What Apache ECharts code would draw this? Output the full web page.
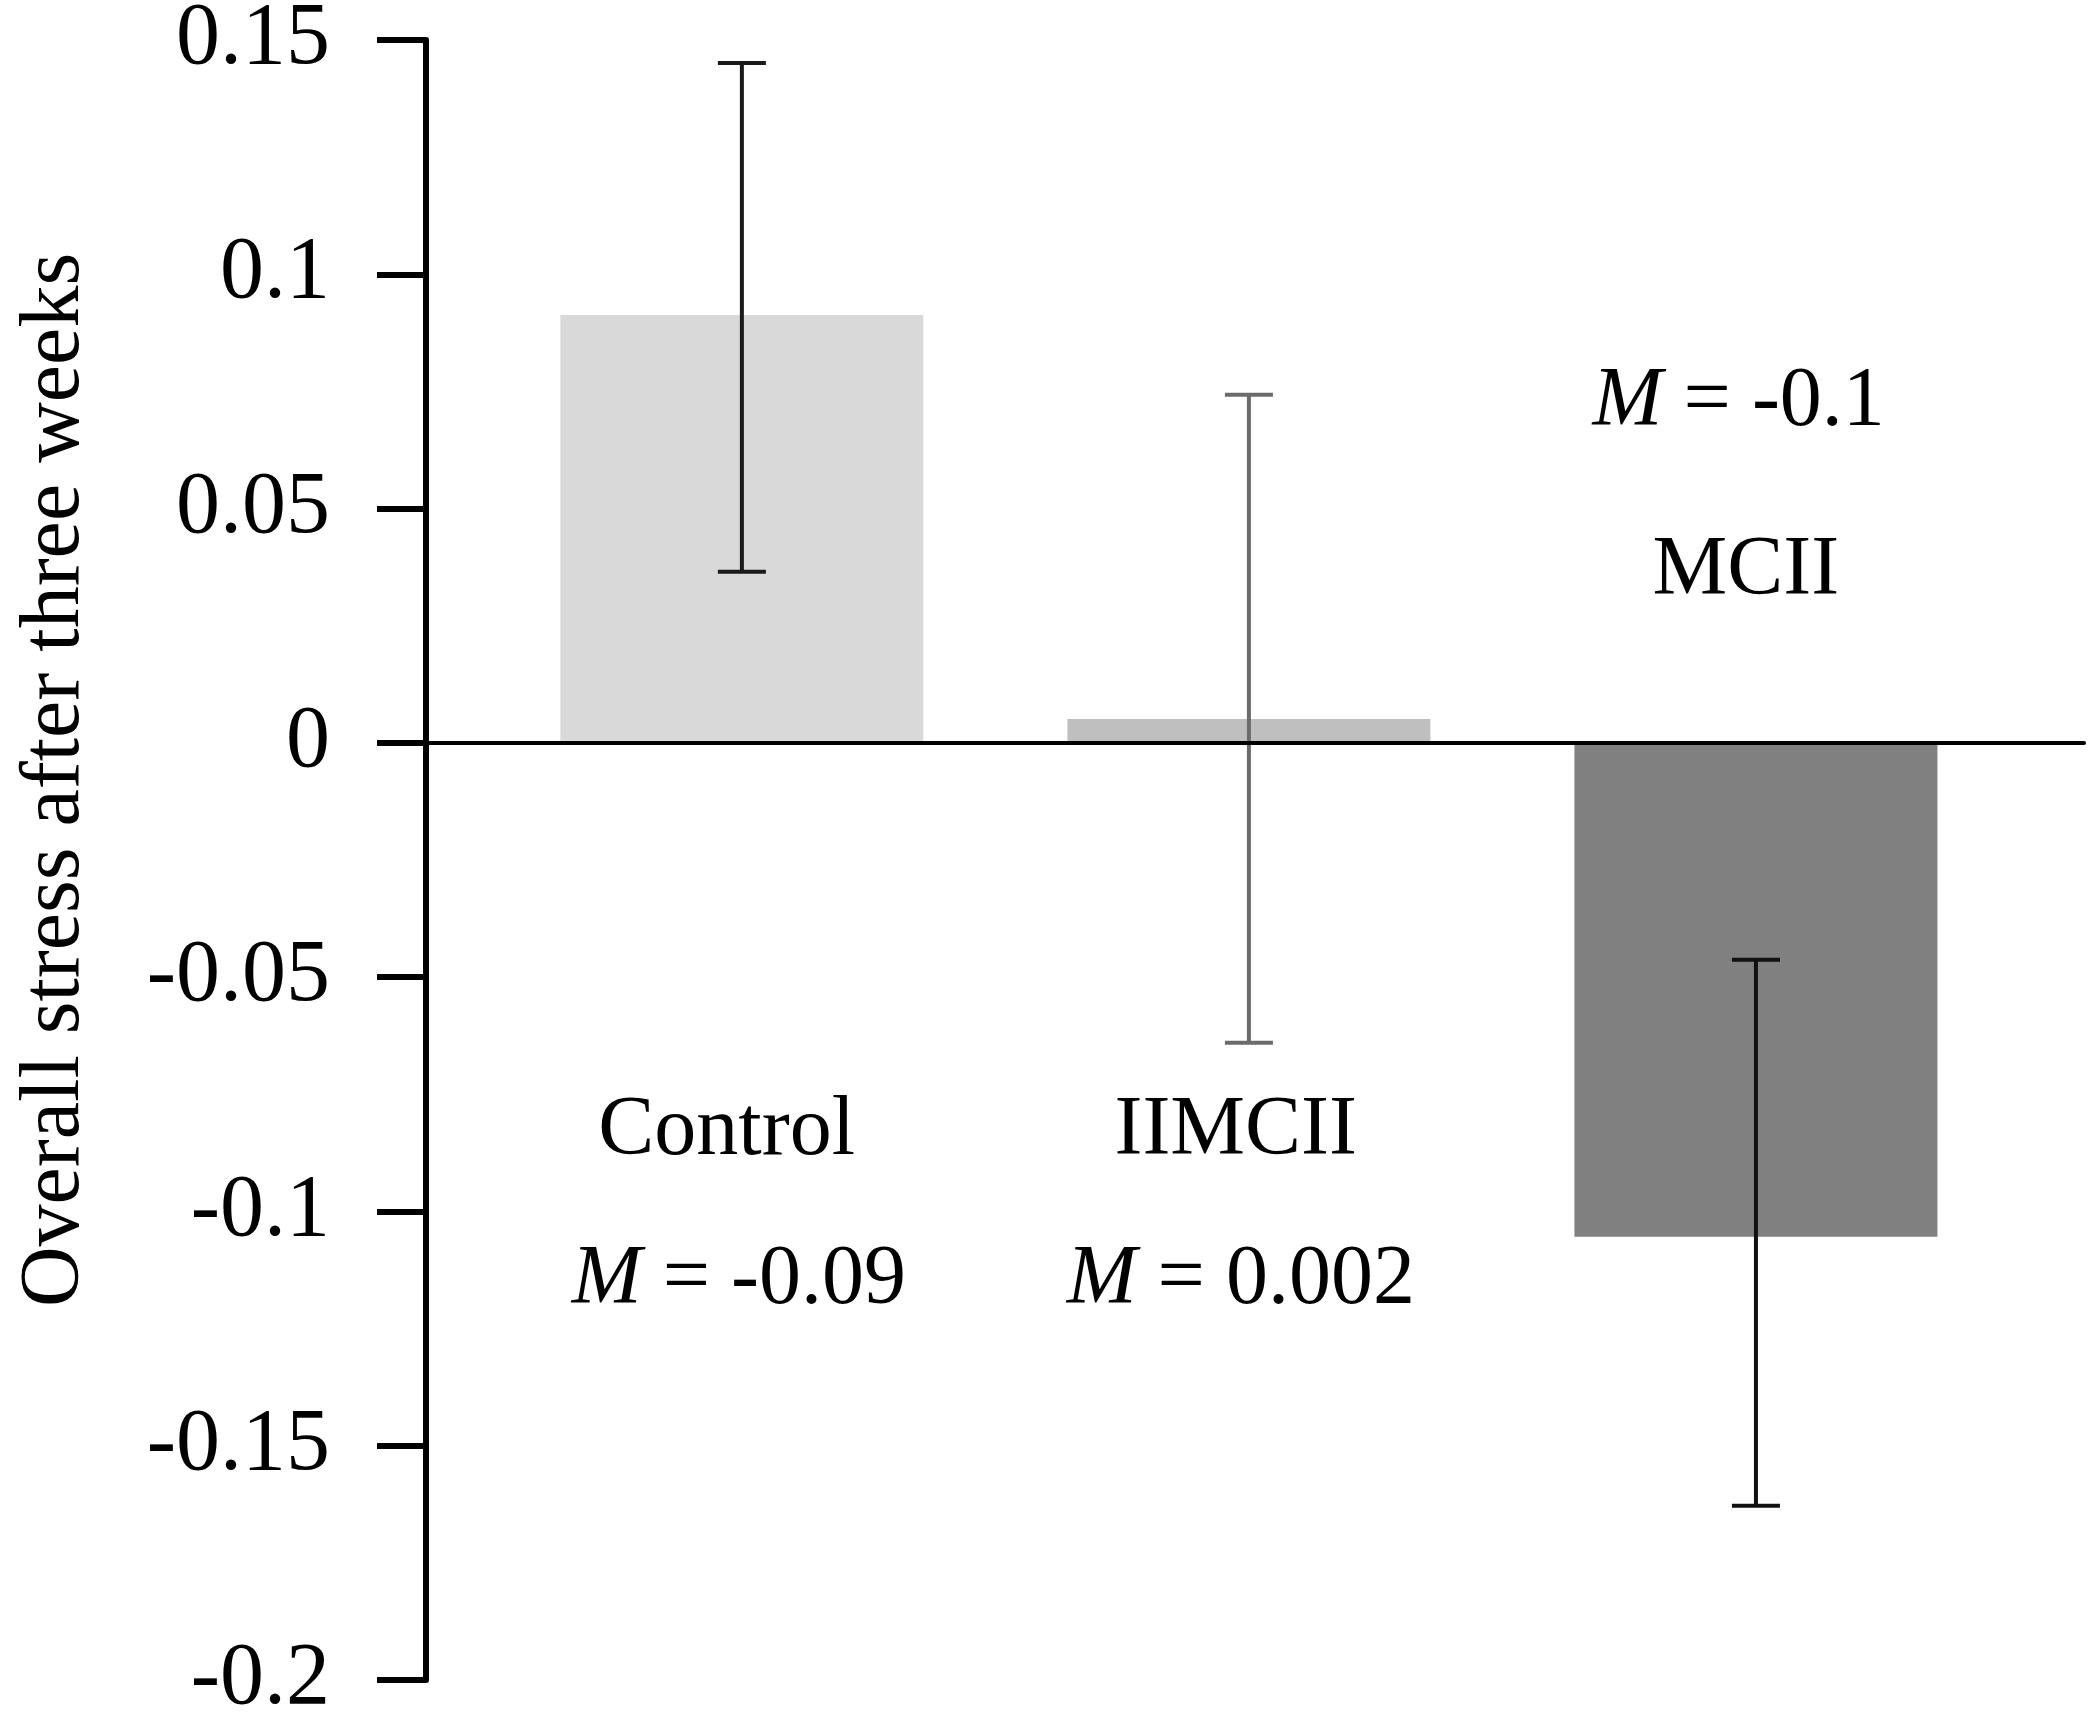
<!DOCTYPE html>
<html>
<head>
<meta charset="utf-8">
<script src="https://cdn.jsdelivr.net/npm/echarts@6/dist/echarts.min.js"></script>
<style>
  html, body { margin: 0; padding: 0; background: #fff; }
  #chart { width: 2097px; height: 1718px; }
</style>
</head>
<body>
<div id="chart"></div>
<script>
// groups, means and error bar ends
var groups = ['Control', 'IIMCII', 'MCII'];
var means = [0.0913, 0.0051, -0.1054];
var errLow = [0.0365, -0.0640, -0.1628];
var errHigh = [0.1451, 0.0743, -0.0463];
var barColors = ['#d9d9d9', '#bfbfbf', '#808080'];
var errColors = ['#1a1a1a', '#6b6b6b', '#111111'];

// y axis ticks
var yMin = -0.2, yMax = 0.15, yStep = 0.05;
var yTickLabels = ['-0.2', '-0.15', '-0.1', '-0.05', '0', '0.05', '0.1', '0.15'];

// text written in the plot
var noteTexts = ['Control', '{i|M} = -0.09', 'IIMCII', '{i|M} = 0.002', '{i|M} = -0.1', 'MCII'];
var noteX = [-0.03, -0.006, 0.974, 0.984, 1.966, 1.980];
var noteY = [-0.0830, -0.1149, -0.0830, -0.1149, 0.0726, 0.0365];

var font = 'Liberation Serif';
var chart = echarts.init(document.getElementById('chart'));

var barData = means.map(function (v, i) {
    return { value: [i, v], itemStyle: { color: barColors[i] } };
});
var errData = groups.map(function (g, i) {
    return [i, errLow[i], errHigh[i]];
});
var noteData = noteTexts.map(function (t, i) {
    return [noteX[i], noteY[i]];
});

var option = {
    animation: false,
    backgroundColor: '#fff',
    grid: { left: 426, right: 13, top: 40, bottom: 38, containLabel: false, outerBoundsMode: 'none' },
    xAxis: {
        type: 'value',
        min: -0.623,
        max: 2.647,
        z: 10,
        axisLine: { onZero: true, lineStyle: { color: '#000', width: 4 } },
        axisTick: { show: false },
        axisLabel: { show: false },
        splitLine: { show: false }
    },
    yAxis: {
        type: 'value',
        min: yMin,
        max: yMax,
        interval: yStep,
        name: 'Overall stress after three weeks',
        nameLocation: 'middle',
        nameRotate: 90,
        nameGap: 328,
        nameTextStyle: { fontFamily: font, fontSize: 84, color: '#000', padding: [0, 0, 0, 160] },
        axisLine: { show: true, onZero: false, lineStyle: { color: '#000', width: 6 } },
        axisTick: { show: true, inside: false, length: 49, lineStyle: { color: '#000', width: 6 } },
        axisLabel: {
            margin: 96,
            fontFamily: font,
            fontSize: 88,
            color: '#000',
            formatter: function (v) {
                return yTickLabels[Math.round((v - yMin) / yStep)];
            }
        },
        splitLine: { show: false }
    },
    series: [
        {
            type: 'bar',
            barWidth: 363,
            data: barData
        },
        {
            type: 'custom',
            z: 5,
            renderItem: function (params, api) {
                var i = api.value(0);
                var lo = api.coord([i, api.value(1)]);
                var hi = api.coord([i, api.value(2)]);
                var half = 24;
                var style = { stroke: errColors[params.dataIndex], lineWidth: 4 };
                return {
                    type: 'group',
                    children: [
                        { type: 'line', shape: { x1: lo[0], y1: lo[1], x2: hi[0], y2: hi[1] }, style: style },
                        { type: 'line', shape: { x1: lo[0] - half, y1: lo[1], x2: lo[0] + half, y2: lo[1] }, style: style },
                        { type: 'line', shape: { x1: hi[0] - half, y1: hi[1], x2: hi[0] + half, y2: hi[1] }, style: style }
                    ]
                };
            },
            data: errData
        },
        {
            type: 'scatter',
            symbolSize: 1,
            z: 20,
            itemStyle: { color: 'rgba(0,0,0,0)', opacity: 1 },
            label: {
                show: true,
                position: 'inside',
                fontFamily: font,
                fontSize: 84,
                color: '#000',
                opacity: 1,
                formatter: function (p) { return noteTexts[p.dataIndex]; },
                rich: {
                    i: { fontFamily: font, fontSize: 84, fontStyle: 'italic', color: '#000' }
                }
            },
            emphasis: { disabled: true },
            data: noteData
        }
    ]
};

chart.setOption(option);
</script>
</body>
</html>
